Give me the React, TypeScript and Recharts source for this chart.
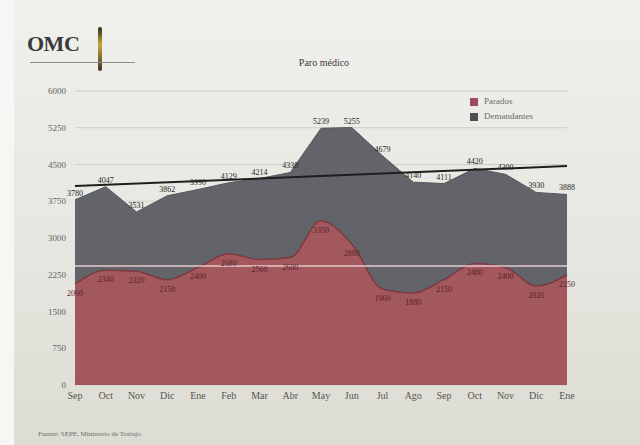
import {
  ComposedChart,
  Area,
  XAxis,
  YAxis,
  CartesianGrid,
  ReferenceLine,
  LabelList,
} from "recharts";

const months = ["Sep", "Oct", "Nov", "Dic", "Ene", "Feb", "Mar", "Abr", "May", "Jun", "Jul", "Ago", "Sep", "Oct", "Nov", "Dic", "Ene"];
const demandantes = [3780, 4047, 3531, 3862, 3990, 4129, 4214, 4338, 5239, 5255, 4679, 4140, 4111, 4420, 4300, 3930, 3888];
const parados = [2060, 2340, 2320, 2150, 2400, 2680, 2560, 2600, 3350, 2880, 1960, 1880, 2150, 2480, 2400, 2020, 2250];
const yTicks = [0, 750, 1500, 2250, 3000, 3750, 4500, 5250, 6000];
const trendStart = 4060;
const trendEnd = 4470;
const paradosMedia = 2430;

const SERIF = '"Liberation Serif", "DejaVu Serif", serif';
const RED = "#a3585d";
const GRAY = "#636469";

const rows = months.map((m, i) => ({
  i,
  mes: m,
  demandantes: demandantes[i],
  parados: parados[i],
}));

function valueLabel(color: string, dy: number) {
  return (p: any) => (
    <text
      x={p.x}
      y={p.y + dy}
      textAnchor="middle"
      fontFamily={SERIF}
      fontSize={8}
      fill={color}
      stroke="none"
    >
      {p.value}
    </text>
  );
}

export default function App() {
  return (
    <div
      style={{
        position: "fixed",
        left: 0,
        top: 0,
        width: 640,
        height: 445,
        overflow: "hidden",
        background: "linear-gradient(180deg, #f0f0ec 0%, #e7e7e1 55%, #dcdcd4 100%)",
        fontFamily: SERIF,
      }}
    >
      <div style={{ position: "absolute", left: 0, top: 0, width: 14, height: 445, background: "#f6f6f4" }} />
      {/* logo */}
      <div
        style={{
          position: "absolute",
          left: 27,
          top: 31,
          fontSize: 22,
          fontWeight: 700,
          color: "#3a3a38",
          letterSpacing: -0.5,
        }}
      >
        OMC
      </div>
      <div style={{ position: "absolute", left: 98, top: 27, width: 4, height: 44, background: "linear-gradient(180deg,#2b2b20,#c8a83a 40%,#3a3328)", borderRadius: 2 }} />
      <div style={{ position: "absolute", left: 30, top: 62, width: 105, height: 1, background: "#8d8d88" }} />
      <div
        style={{
          position: "absolute",
          left: 0,
          width: 640,
          top: 57,
          textAlign: "center",
          fontSize: 10,
          color: "#3c3c3a",
          paddingLeft: 4,
        }}
      >
        Paro médico
      </div>
      {/* legend */}
      <div style={{ position: "absolute", left: 470, top: 94, fontSize: 9, color: "#6a6a66", lineHeight: "15px" }}>
        <div style={{ display: "flex", alignItems: "center" }}>
          <span style={{ width: 8, height: 8, background: "#9c4e5e", display: "inline-block", marginRight: 6 }} />
          Parados
        </div>
        <div style={{ display: "flex", alignItems: "center" }}>
          <span style={{ width: 8, height: 8, background: "#4e4f53", display: "inline-block", marginRight: 6 }} />
          Demandantes
        </div>
      </div>
      <div style={{ position: "absolute", left: 38, top: 430, fontSize: 7, color: "#6c6c68" }}>
        Fuente: SEPE, Ministerio de Trabajo
      </div>
      <div style={{ position: "absolute", left: 0, top: 0 }}>
        <ComposedChart
          width={640}
          height={445}
          data={rows}
          margin={{ top: 91, right: 73, left: 0, bottom: 30 }}
        >
          <CartesianGrid vertical={false} stroke="#cdcdc8" />
          <XAxis
            dataKey="i"
            type="category"
            height={30}
            tickFormatter={(v) => months[v as number]}
            axisLine={false}
            tickLine={false}
            tickSize={0}
            tickMargin={7}
            interval={0}
            tick={{ fontFamily: SERIF, fontSize: 10, fill: "#555551" }}
          />
          <YAxis
            width={75}
            domain={[0, 6000]}
            ticks={yTicks}
            axisLine={false}
            tickLine={false}
            tickSize={0}
            tickMargin={9}
            tick={{ fontFamily: SERIF, fontSize: 9, fill: "#62625e" }}
          />
          <Area
            type="linear"
            dataKey="demandantes"
            stroke="#57585d"
            strokeWidth={1}
            fill={GRAY}
            fillOpacity={1}
            isAnimationActive={false}
          >
            <LabelList dataKey="demandantes" content={valueLabel("#262624", -4)} />
          </Area>
          <Area
            type="monotone"
            dataKey="parados"
            stroke="#7b3a40"
            strokeWidth={1.5}
            fill={RED}
            fillOpacity={1}
            isAnimationActive={false}
          >
            <LabelList dataKey="parados" content={valueLabel("#5a2226", 12)} />
          </Area>
          <ReferenceLine y={paradosMedia} stroke="#e6c9cb" strokeWidth={1.5} />
          <ReferenceLine
            segment={[
              { x: 0, y: trendStart },
              { x: months.length - 1, y: trendEnd },
            ]}
            stroke="#1e1e1e"
            strokeWidth={2}
          />
        </ComposedChart>
      </div>
    </div>
  );
}
